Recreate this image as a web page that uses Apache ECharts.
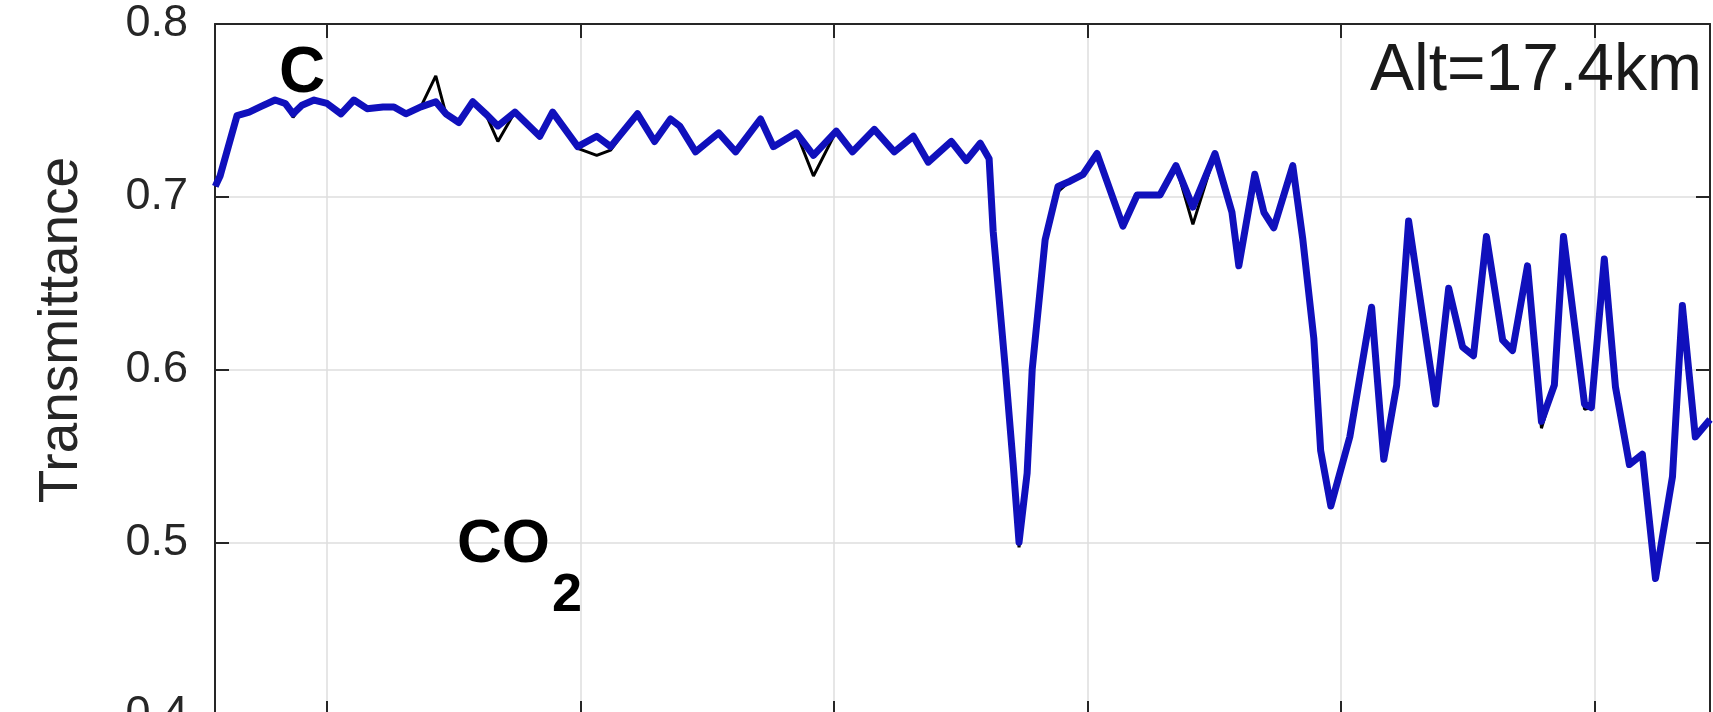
<!DOCTYPE html>
<html>
<head>
<meta charset="utf-8">
<script src="https://cdn.jsdelivr.net/npm/echarts@6/dist/echarts.min.js"></script>
<style>
html,body{margin:0;padding:0;background:#fff;}
#chart{width:1713px;height:712px;}
</style>
</head>
<body>
<div id="chart"></div>
<script>
// ---- data (x in arbitrary spectral units; gridlines at 1..6) ----
const xTicks = [1, 2, 3, 4, 5, 6];
const yTicks = [0.4, 0.5, 0.6, 0.7, 0.8];
const xMin = 0.558, xMax = 6.456;

const waveX = [0.559,0.578,0.645,0.693,0.736,0.795,0.835,0.866,0.901,0.949,
1.000,1.055,1.106,1.158,1.221,1.264,1.311,1.370,1.429,1.469,
1.520,1.575,1.626,1.674,1.741,1.839,1.890,1.989,2.064,2.119,
2.225,2.292,2.355,2.391,2.454,2.545,2.612,2.710,2.761,2.852,
2.919,3.009,3.073,3.159,3.238,3.313,3.372,3.463,3.522,3.577,
3.612,3.628,3.675,3.707,3.730,3.762,3.782,3.833,3.884,3.931,
3.983,4.038,4.140,4.196,4.286,4.349,4.416,4.503,4.570,4.597,
4.660,4.696,4.735,4.810,4.849,4.893,4.920,4.960,5.035,5.121,
5.169,5.220,5.267,5.374,5.425,5.480,5.523,5.574,5.638,5.677,
5.736,5.791,5.842,5.878,5.961,5.988,6.039,6.083,6.138,6.189,
6.241,6.308,6.347,6.398,6.456];

const blueY = [0.706,0.712,0.747,0.749,0.752,0.756,0.754,0.748,0.753,0.756,
0.754,0.748,0.756,0.751,0.752,0.752,0.748,0.752,0.755,0.748,
0.743,0.755,0.748,0.741,0.749,0.735,0.749,0.729,0.735,0.729,
0.748,0.732,0.745,0.741,0.726,0.737,0.726,0.745,0.729,0.737,
0.724,0.738,0.726,0.739,0.726,0.735,0.720,0.732,0.721,0.731,
0.722,0.680,0.602,0.545,0.500,0.540,0.600,0.675,0.706,0.709,
0.713,0.725,0.683,0.701,0.701,0.718,0.694,0.725,0.691,0.660,
0.713,0.691,0.682,0.718,0.676,0.618,0.553,0.521,0.561,0.636,
0.548,0.591,0.686,0.580,0.647,0.613,0.608,0.677,0.617,0.611,
0.660,0.570,0.591,0.677,0.580,0.578,0.664,0.590,0.545,0.551,
0.479,0.538,0.637,0.561,0.571];

const blackY = [0.706,0.712,0.747,0.749,0.752,0.756,0.754,0.746,0.753,0.756,
0.754,0.748,0.756,0.751,0.752,0.752,0.748,0.752,0.770,0.748,
0.743,0.755,0.748,0.732,0.749,0.735,0.749,0.728,0.724,0.727,
0.748,0.732,0.745,0.741,0.726,0.737,0.726,0.745,0.729,0.737,
0.712,0.738,0.726,0.739,0.726,0.735,0.720,0.732,0.721,0.731,
0.722,0.680,0.602,0.545,0.497,0.540,0.600,0.675,0.703,0.709,
0.713,0.725,0.683,0.701,0.701,0.718,0.684,0.725,0.691,0.660,
0.713,0.691,0.682,0.718,0.676,0.618,0.553,0.521,0.561,0.636,
0.548,0.591,0.686,0.580,0.647,0.613,0.608,0.677,0.617,0.611,
0.660,0.566,0.591,0.677,0.577,0.578,0.664,0.590,0.545,0.551,
0.479,0.538,0.637,0.561,0.571];

const yLabel = 'Transmittance';
const altLabel = 'Alt=17.4km';
const panelLabel = 'C';
const gasLabel = 'CO';
const gasSub = '2';

// ---- chart ----
const pairs = (ys) => waveX.map((x, i) => [x, ys[i]]);
const axisColor = '#262626';
const gridColor = '#dedede';
const FONT = '"Liberation Sans", Arial, Helvetica, sans-serif';

const chart = echarts.init(document.getElementById('chart'), null, {renderer: 'canvas'});
const tickStyle = {show: true, inside: true, length: 14, lineStyle: {color: axisColor, width: 2}};
chart.setOption({
  animation: false,
  backgroundColor: '#ffffff',
  grid: {left: 215, top: 24, width: 1495, height: 691, containLabel: false, outerBoundsMode: 'none'},
  xAxis: [
    {type: 'value', position: 'bottom', min: xMin, max: xMax,
     axisLine: {show: true, onZero: false, lineStyle: {color: axisColor, width: 2}},
     axisTick: Object.assign({customValues: xTicks}, tickStyle),
     axisLabel: {show: false, customValues: xTicks},
     splitLine: {show: true, lineStyle: {color: gridColor, width: 1.5}}},
    {type: 'value', position: 'top', min: xMin, max: xMax,
     axisLine: {show: true, onZero: false, lineStyle: {color: axisColor, width: 2}},
     axisTick: Object.assign({customValues: xTicks}, tickStyle),
     axisLabel: {show: false, customValues: xTicks},
     splitLine: {show: false}}
  ],
  yAxis: [
    {type: 'value', position: 'left', min: 0.4, max: 0.8, interval: 0.1,
     axisLine: {show: true, onZero: false, lineStyle: {color: axisColor, width: 2}},
     axisTick: tickStyle,
     axisLabel: {show: true, color: axisColor, fontSize: 45, fontFamily: FONT, margin: 27,
                 formatter: v => v.toFixed(1)},
     splitLine: {show: true, lineStyle: {color: gridColor, width: 1.5}}},
    {type: 'value', position: 'right', min: 0.4, max: 0.8, interval: 0.1,
     axisLine: {show: true, onZero: false, lineStyle: {color: axisColor, width: 2}},
     axisTick: tickStyle,
     axisLabel: {show: false},
     splitLine: {show: false}}
  ],
  series: [
    {type: 'line', name: 'black', data: pairs(blackY), showSymbol: false, symbol: 'none',
     lineStyle: {color: '#000000', width: 3}, z: 2},
    {type: 'line', name: 'blue', data: pairs(blueY), showSymbol: false, symbol: 'none',
     lineStyle: {color: '#1010bc', width: 7, join: 'round'}, z: 3}
  ],
  graphic: [
    {type: 'text', x: 62, y: 330, rotation: Math.PI / 2, z: 10,
     style: {text: yLabel, font: '55px ' + FONT, fill: axisColor, textAlign: 'center', textVerticalAlign: 'middle'}},
    {type: 'text', x: 1702, y: 72, z: 10,
     style: {text: altLabel, font: '66px ' + FONT, fill: '#1a1a1a', textAlign: 'right', textVerticalAlign: 'middle'}},
    {type: 'text', x: 279, y: 74, z: 10,
     style: {text: panelLabel, font: 'bold 64px ' + FONT, fill: '#000', textAlign: 'left', textVerticalAlign: 'middle'}},
    {type: 'text', x: 457, y: 545, z: 10,
     style: {text: gasLabel, font: 'bold 62px ' + FONT, fill: '#000', textAlign: 'left', textVerticalAlign: 'middle'}},
    {type: 'text', x: 552, y: 596, z: 10,
     style: {text: gasSub, font: 'bold 54px ' + FONT, fill: '#000', textAlign: 'left', textVerticalAlign: 'middle'}}
  ]
});
</script>
</body>
</html>
